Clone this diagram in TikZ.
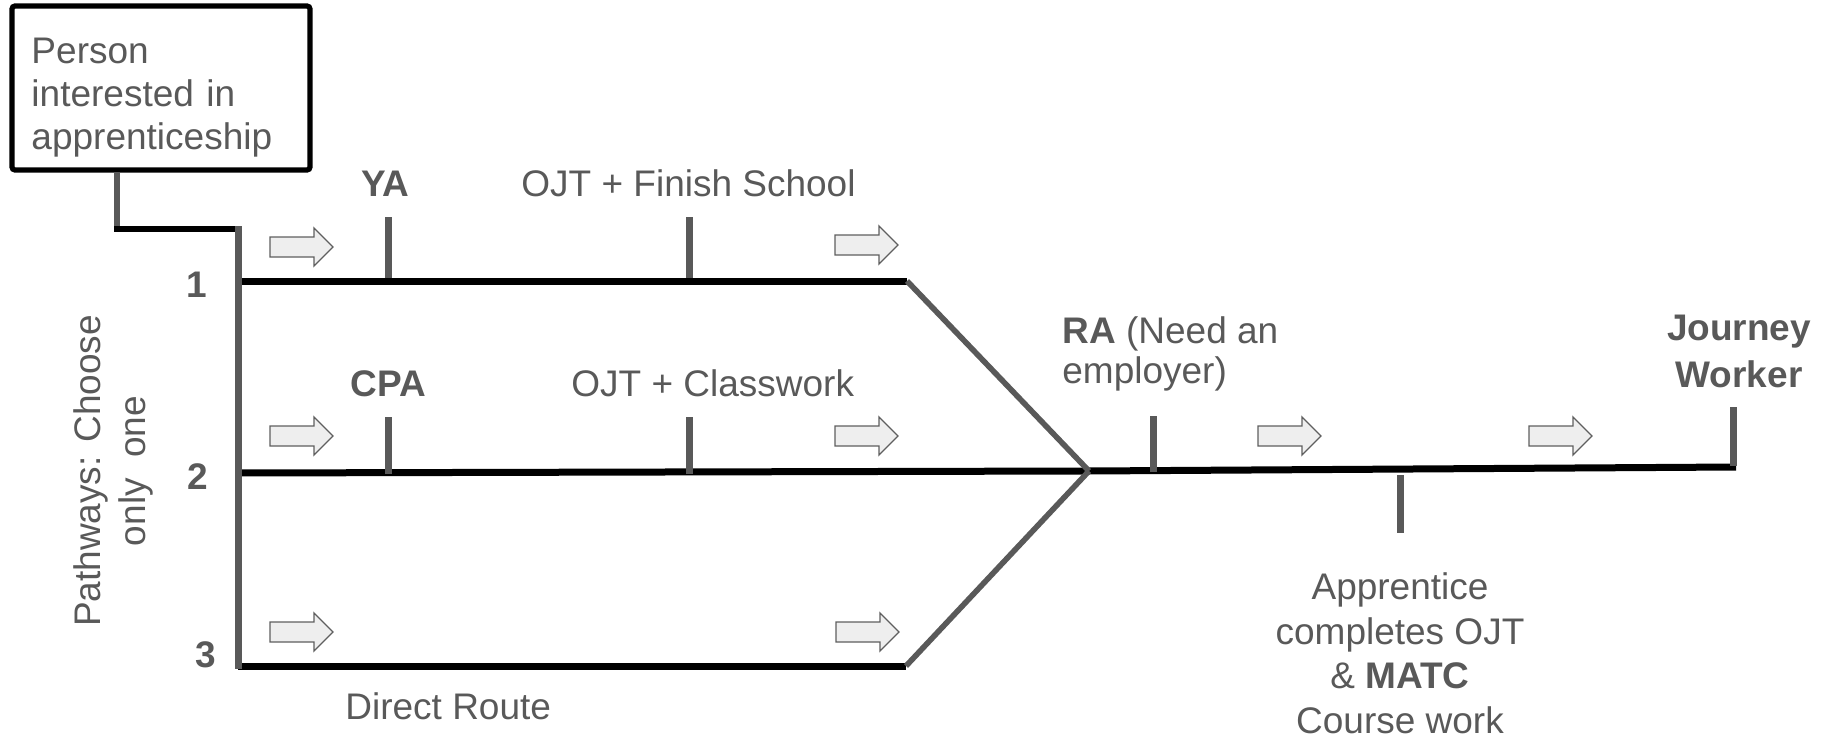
\documentclass[tikz,border=0pt]{standalone}
\usepackage{fontspec}
\setmainfont{Liberation Sans}
\definecolor{tgray}{HTML}{595959}
\definecolor{lgray}{HTML}{595959}
\definecolor{afill}{HTML}{EEEEEE}
\definecolor{astroke}{HTML}{5F5F5F}
\tikzset{
  lbl/.style={text=tgray, inner sep=0pt, font=\fontsize{18.5pt}{22pt}\selectfont},
  blk/.style={draw=black, line width=3.5pt},
  gry/.style={draw=lgray, line width=3.5pt},
  diag/.style={draw=lgray, line width=2.8pt},
  tickmark/.style={draw=lgray, line width=3.5pt},
  fatarrow/.pic={\draw[fill=afill, draw=astroke, line width=0.65pt, line join=miter]
     (0,-10) -- (44,-10) -- (44,-19) -- (63,0) -- (44,19) -- (44,10) -- (0,10) -- cycle;}
}
\begin{document}
\begin{tikzpicture}[x=0.5pt,y=-0.5pt]
\useasboundingbox (0,0) rectangle (1831,738);

% start box
\node[draw=black, line width=2.6pt, rounded corners=1.5pt, fill=white,
      minimum width=149pt, minimum height=82pt, text width=129.5pt,
      inner xsep=9.75pt, inner ysep=0pt, align=left, text=tgray,
      font=\fontsize{18.5pt}{21.5pt}\selectfont] (person) at (161,88)
      {\rule{0pt}{22pt}Person\\interested in\\apprenticeship};

% key coordinates
\coordinate (k1) at (117,229);
\coordinate (k2) at (238,229);
\coordinate (v1) at (238,281);
\coordinate (v2) at (238,473);
\coordinate (v3) at (238,669);
\coordinate (v3b) at (238,666);
\coordinate (e1) at (907,281);
\coordinate (e3) at (906,666);
\coordinate (j) at (1089,471);
\coordinate (jw) at (1736,467);

% connector from box
\draw[draw=lgray, line width=2.8pt] (person.south -| k1) -- ([yshift=-1.5pt]k1);
\draw[draw=black, line width=3pt] ([xshift=-1.4pt]k1) -- (k2);

% pathway lines
\draw[blk] (v1) -- (e1);
\draw[blk] (v2) -- (j) -- (jw);
\draw[blk] (v3b) -- (e3);
\draw[gry] ([yshift=1.5pt]k2) -- (v3);
\draw[diag] (e1) -- (j);
\draw[diag] (e3) -- (j);

% ticks
\draw[tickmark] (388,217) -- (388,278);
\draw[tickmark] (689,217) -- (689,278);
\draw[tickmark] (388,417) -- (388,474);
\draw[tickmark] (689,417) -- (689,474);
\draw[tickmark] (1153,416) -- (1153,472);
\draw[tickmark] (1400,475) -- (1400,533);
\draw[tickmark] (1733,407) -- (1733,466);

% arrows
\pic at (270,247) {fatarrow};
\pic at (835,245) {fatarrow};
\pic at (270,436) {fatarrow};
\pic at (835,436) {fatarrow};
\pic at (270,632) {fatarrow};
\pic at (836,632) {fatarrow};
\pic at (1258,436) {fatarrow};
\pic at (1529,436) {fatarrow};

% labels
\node[lbl, anchor=base west] (ya) at (361,197) {\textbf{YA}};
\node[lbl, anchor=base west] (ojt1) at (521,197) {OJT + Finish School};
\node[lbl, anchor=base west] (cpa) at (350,396) {\textbf{CPA}};
\node[lbl, anchor=base west] (ojt2) at (571,396) {OJT + Classwork};
\node[lbl, anchor=base west] (direct) at (345,719) {Direct Route};
\node[lbl, anchor=base] (n1) at (197,297) {\textbf{1}};
\node[lbl, anchor=base] (n2) at (198,489) {\textbf{2}};
\node[lbl, anchor=base] (n3) at (206,667) {\textbf{3}};
\node[lbl, rotate=90, align=center, font=\fontsize{18.5pt}{22.5pt}\selectfont] (path) at (113,471)
   {Pathways: Choose\\only\ \ one};
\node[lbl, anchor=base west, align=left, font=\fontsize{18.5pt}{20pt}\selectfont] (ra) at (1062,383)
   {\textbf{RA} (Need an\\employer)};
\node[lbl, anchor=base, align=center, font=\fontsize{18.5pt}{23.5pt}\selectfont\bfseries] (journey) at (1739,387)
   {Journey\\Worker};
\node[lbl, anchor=base, align=center, font=\fontsize{18.5pt}{22.25pt}\selectfont] (matc) at (1400,733)
   {Apprentice\\completes OJT\\\& \textbf{MATC}\\Course work};
\end{tikzpicture}
\end{document}
